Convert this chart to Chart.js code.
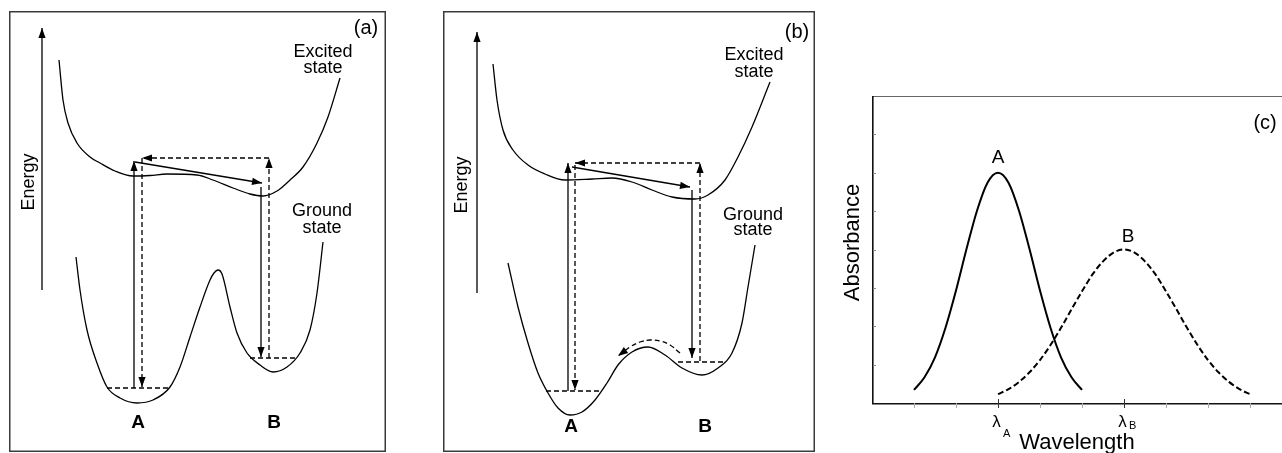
<!DOCTYPE html>
<html>
<head>
<meta charset="utf-8">
<script src="https://cdn.jsdelivr.net/npm/chart.js@4.4.1/dist/chart.umd.min.js"></script>
<style>
  body { margin: 0; background: #fff; width: 1282px; height: 453px; overflow: hidden; position: relative; }
  canvas { position: absolute; }
  #chartA { left: 9px; top: 11px; }
  #chartB { left: 443px; top: 11px; }
  #chartC { left: 830px; top: 90px; }
</style>
</head>
<body>
<canvas id="chartA" width="377" height="441"></canvas>
<canvas id="chartB" width="372" height="441"></canvas>
<canvas id="chartC" width="452" height="363"></canvas>
<script>
// ---- panel (a): x = reaction coordinate, e = energy ----
const aExcitedX = [59, 63, 68, 77, 90, 100, 115, 133, 150, 167, 197, 213, 233, 250, 263, 277, 290, 303, 317, 328, 340];
const aExcitedE = [392, 352, 329, 309, 295, 289, 281, 276, 276.5, 278, 277, 272, 264, 258, 256, 261, 272, 285, 309, 335, 374];
const aGroundX = [76, 80, 87, 97, 107, 120, 137, 153, 170, 180, 190, 200, 210, 214, 218, 222, 230, 237, 247, 260, 273, 287, 300, 310, 317, 323];
const aGroundE = [195, 162, 122, 89, 65, 54, 49, 52, 65, 85, 115, 145, 172, 179, 182, 178, 145, 119, 99, 87, 80, 85, 99, 122, 159, 210];
const aLevelA = { x: [107, 170], e: [64, 64] };
const aLevelB = { x: [250, 295], e: [94, 94] };
const aEnergyAxis = { x: [42, 42], e: [162, 424] };
const aAbsorb = { x: [134, 134], e: [64, 291] };
const aRelax = { x: [135, 262], e: [290, 269] };
const aEmit = { x: [261, 261], e: [265, 95] };
const aBackUp = { x: [269, 269], e: [94, 294] };
const aBackTop = { x: [269, 142], e: [294, 294] };
const aBackDown = { x: [142, 142], e: [294, 65] };

// ---- panel (b) ----
const bExcitedX = [493, 497, 503, 513, 528, 545, 565, 592, 612, 632, 652, 672, 695, 708, 725, 738, 752, 770];
const bExcitedE = [388, 352, 322, 302, 287, 278, 272, 273, 274, 270, 262, 255, 253, 257, 272, 295, 325, 370];
const bGroundX = [508, 518, 528, 538, 548, 558, 570, 582, 595, 607, 618, 632, 648, 665, 682, 702, 718, 732, 742, 748, 755];
const bGroundE = [189, 145, 109, 79, 59, 44, 37, 40, 52, 69, 87, 100, 105, 97, 84, 77, 84, 99, 129, 165, 207];
const bLevelA = { x: [546, 599], e: [61, 61] };
const bLevelB = { x: [678, 723], e: [90, 90] };
const bEnergyAxis = { x: [477, 477], e: [159, 420] };
const bAbsorb = { x: [568, 568], e: [61, 289] };
const bRelax = { x: [572, 690], e: [285, 265] };
const bEmit = { x: [692, 692], e: [262, 94] };
const bBackUp = { x: [700, 700], e: [91, 289] };
const bBackTop = { x: [700, 575], e: [289, 289] };
const bBackDown = { x: [575, 575], e: [287, 62] };
const bThermal = { x: [680, 670, 660, 650, 640, 630, 618], e: [99, 107, 111, 112, 110, 105, 96] };

// ---- panel (c): absorbance spectra ----
const specAX = [1, 1.25, 1.5, 1.75, 2, 2.25, 2.5, 2.75, 3, 3.25, 3.5, 3.75, 4, 4.25, 4.5, 4.75, 5];
const specAY = [0.34, 0.67, 1.19, 1.96, 2.93, 4.01, 5.01, 5.74, 6, 5.74, 5.01, 4.01, 2.93, 1.96, 1.19, 0.67, 0.34];
const specBX = [3, 3.25, 3.5, 3.75, 4, 4.25, 4.5, 4.75, 5, 5.25, 5.5, 5.75, 6, 6.25, 6.5, 6.75, 7, 7.25, 7.5, 7.75, 8, 8.25, 8.5, 8.75, 9];
const specBY = [0.23, 0.36, 0.55, 0.80, 1.12, 1.51, 1.96, 2.44, 2.91, 3.35, 3.69, 3.92, 4, 3.92, 3.69, 3.35, 2.91, 2.44, 1.96, 1.51, 1.12, 0.80, 0.55, 0.36, 0.23];
const wavelengthTicks = [1, 2, 3, 4, 5, 6, 7, 8, 9];
const absorbanceTicks = [1, 2, 3, 4, 5, 6, 7];
const wavelengthLabels = [{ value: 3, main: 'λ', sub: 'A', subDrop: 10 }, { value: 6, main: 'λ', sub: 'B', subDrop: 2 }];

const FONT = "'Liberation Sans', Arial, Helvetica, sans-serif";

const pts = (xs, ys) => xs.map((x, i) => ({ x: x, y: ys[i] }));

function curve(xs, ys, extra) {
  return Object.assign({
    data: pts(xs, ys), showLine: true, borderColor: '#000', borderWidth: 1.3,
    pointRadius: 0, cubicInterpolationMode: 'monotone', fill: false
  }, extra || {});
}
function seg(p, dashed, arrow) {
  return {
    data: pts(p.x, p.e), showLine: true, borderColor: '#000', borderWidth: 1.3,
    pointRadius: 0, tension: p.x.length > 2 ? 0.4 : 0, fill: false,
    borderDash: dashed ? [5, 3] : [], arrow: arrow
  };
}

function drawArrowHeads(chart) {
  const ctx = chart.ctx;
  chart.data.datasets.forEach((ds, i) => {
    if (!ds.arrow) return;
    const els = chart.getDatasetMeta(i).data;
    const p1 = els[els.length - 2], p2 = els[els.length - 1];
    const ang = Math.atan2(p2.y - p1.y, p2.x - p1.x);
    ctx.save();
    ctx.translate(p2.x, p2.y);
    ctx.rotate(ang);
    ctx.beginPath();
    ctx.moveTo(0, 0);
    ctx.lineTo(-10, 3.6);
    ctx.lineTo(-10, -3.6);
    ctx.closePath();
    ctx.fillStyle = '#000';
    ctx.fill();
    ctx.restore();
  });
}

function diagramPlugin(texts) {
  return {
    id: 'diagram',
    afterDatasetsDraw(chart) {
      const { ctx, chartArea, scales } = chart;
      drawArrowHeads(chart);
      ctx.save();
      ctx.fillStyle = '#000';
      texts.forEach(t => {
        const px = scales.x.getPixelForValue(t.x), py = scales.y.getPixelForValue(t.y);
        ctx.font = (t.bold ? 'bold ' : '') + t.size + 'px ' + FONT;
        ctx.textAlign = 'center';
        ctx.textBaseline = 'middle';
        if (t.rotate) {
          ctx.save();
          ctx.translate(px, py);
          ctx.rotate(-Math.PI / 2);
          ctx.fillText(t.text, 0, 0);
          ctx.restore();
        } else {
          ctx.fillText(t.text, px, py);
        }
      });
      ctx.strokeStyle = '#3a3a3a';
      ctx.lineWidth = 1.5;
      ctx.strokeRect(chartArea.left + 0.75, chartArea.top + 0.75, chartArea.width - 1.5, chartArea.height - 1.5);
      ctx.restore();
    }
  };
}

function makeDiagram(id, xmin, xmax, datasets, texts) {
  return new Chart(document.getElementById(id), {
    type: 'scatter',
    data: { datasets: datasets },
    options: {
      responsive: false, animation: false, devicePixelRatio: 1,
      layout: { padding: 0 },
      plugins: { legend: { display: false }, tooltip: { enabled: false } },
      scales: {
        x: { type: 'linear', min: xmin, max: xmax, display: false },
        y: { type: 'linear', min: 0, max: 441, display: false }
      }
    },
    plugins: [diagramPlugin(texts)]
  });
}

makeDiagram('chartA', 9, 386, [
  curve(aExcitedX, aExcitedE),
  curve(aGroundX, aGroundE),
  seg(aLevelA, true, false),
  seg(aLevelB, true, false),
  seg(aEnergyAxis, false, true),
  seg(aAbsorb, false, true),
  seg(aRelax, false, true),
  seg(aEmit, false, true),
  seg(aBackUp, true, true),
  seg(aBackTop, true, true),
  seg(aBackDown, true, true)
], [
  { text: '(a)', x: 366, y: 424, size: 20 },
  { text: 'Excited', x: 323, y: 400, size: 18 },
  { text: 'state', x: 323, y: 384, size: 18 },
  { text: 'Ground', x: 322, y: 241, size: 18 },
  { text: 'state', x: 322, y: 224, size: 18 },
  { text: 'A', x: 138, y: 29, size: 19, bold: true },
  { text: 'B', x: 274, y: 29, size: 19, bold: true },
  { text: 'Energy', x: 29, y: 270, size: 18, rotate: true }
]);

makeDiagram('chartB', 443, 815, [
  curve(bExcitedX, bExcitedE),
  curve(bGroundX, bGroundE),
  seg(bLevelA, true, false),
  seg(bLevelB, true, false),
  seg(bEnergyAxis, false, true),
  seg(bAbsorb, false, true),
  seg(bRelax, false, true),
  seg(bEmit, false, true),
  seg(bBackUp, true, true),
  seg(bBackTop, true, true),
  seg(bBackDown, true, true),
  seg(bThermal, true, true)
], [
  { text: '(b)', x: 797, y: 420, size: 20 },
  { text: 'Excited', x: 754, y: 397, size: 18 },
  { text: 'state', x: 754, y: 380, size: 18 },
  { text: 'Ground', x: 753, y: 237, size: 18 },
  { text: 'state', x: 753, y: 222, size: 18 },
  { text: 'A', x: 571, y: 25, size: 19, bold: true },
  { text: 'B', x: 705, y: 25, size: 19, bold: true },
  { text: 'Energy', x: 462, y: 267, size: 18, rotate: true }
]);

const spectrumPlugin = {
  id: 'spectrum',
  afterDatasetsDraw(chart) {
    const { ctx, chartArea: ca, scales: { x, y } } = chart;
    ctx.save();
    // frame: thin top, heavier left and bottom axes
    ctx.strokeStyle = '#666';
    ctx.lineWidth = 1;
    ctx.beginPath();
    ctx.moveTo(ca.left, ca.top + 0.5);
    ctx.lineTo(ca.right, ca.top + 0.5);
    ctx.stroke();
    ctx.strokeStyle = '#111';
    ctx.lineWidth = 1.6;
    ctx.beginPath();
    ctx.moveTo(ca.left + 0.8, ca.top);
    ctx.lineTo(ca.left + 0.8, ca.bottom + 0.8);
    ctx.lineTo(ca.right, ca.bottom + 0.8);
    ctx.stroke();
    // ticks
    ctx.lineWidth = 1;
    wavelengthTicks.forEach(v => {
      const px = Math.round(x.getPixelForValue(v)) + 0.5;
      const major = wavelengthLabels.some(l => l.value === v);
      ctx.strokeStyle = major ? '#333' : '#aaa';
      ctx.beginPath();
      ctx.moveTo(px, ca.bottom - (major ? 4 : 0));
      ctx.lineTo(px, ca.bottom + 5);
      ctx.stroke();
    });
    ctx.strokeStyle = '#888';
    absorbanceTicks.forEach(v => {
      const py = Math.round(y.getPixelForValue(v)) + 0.5;
      ctx.beginPath();
      ctx.moveTo(ca.left + 1, py);
      ctx.lineTo(ca.left + 4, py);
      ctx.stroke();
    });
    // tick labels with subscripts
    ctx.fillStyle = '#000';
    ctx.textBaseline = 'alphabetic';
    wavelengthLabels.forEach(l => {
      const px = x.getPixelForValue(l.value);
      ctx.font = '17px ' + FONT;
      ctx.textAlign = 'center';
      ctx.fillText(l.main, px - 1.5, ca.bottom + 24);
      ctx.font = '11px ' + FONT;
      ctx.textAlign = 'left';
      ctx.fillText(l.sub, px + 5, ca.bottom + 24 + l.subDrop);
    });
    // axis titles
    ctx.font = '22px ' + FONT;
    ctx.textAlign = 'center';
    ctx.fillText('Wavelength', x.getPixelForValue(4.88), ca.bottom + 46);
    ctx.save();
    ctx.translate(ca.left - 13, (ca.top + ca.bottom) / 2 - 7);
    ctx.rotate(-Math.PI / 2);
    ctx.fillText('Absorbance', 0, 0);
    ctx.restore();
    // peak labels
    ctx.font = '19px ' + FONT;
    ctx.textBaseline = 'middle';
    ctx.fillText('A', x.getPixelForValue(3.0), y.getPixelForValue(6.38));
    ctx.fillText('B', x.getPixelForValue(6.1), y.getPixelForValue(4.32));
    ctx.font = '20px ' + FONT;
    ctx.fillText('(c)', x.getPixelForValue(9.36), y.getPixelForValue(7.29));
    ctx.restore();
  }
};

new Chart(document.getElementById('chartC'), {
  type: 'scatter',
  data: {
    datasets: [
      curve(specAX, specAY, { borderWidth: 2 }),
      curve(specBX, specBY, { borderWidth: 2, borderDash: [6, 3] })
    ]
  },
  options: {
    responsive: false, animation: false, devicePixelRatio: 1,
    layout: { padding: { left: 42, top: 6, right: 0, bottom: 50 } },
    plugins: { legend: { display: false }, tooltip: { enabled: false } },
    scales: {
      x: { type: 'linear', min: 0, max: 9.762, display: false },
      y: { type: 'linear', min: 0, max: 8, display: false }
    }
  },
  plugins: [spectrumPlugin]
});
</script>
</body>
</html>
